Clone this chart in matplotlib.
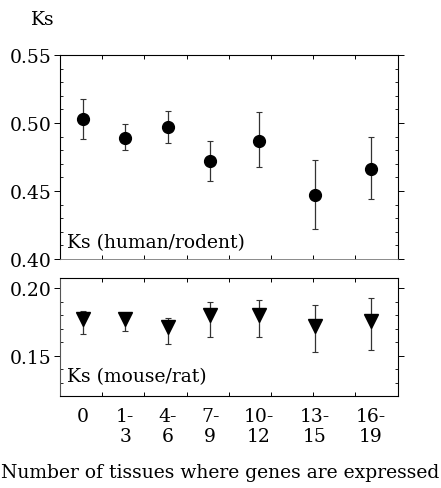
import numpy as np
import matplotlib
matplotlib.use('Agg')
import matplotlib.pyplot as plt
from matplotlib.ticker import MultipleLocator, FixedLocator

plt.rcParams['font.family'] = ['DejaVu Serif']

# categories (number of tissues) and their positions on the axis
groups = ['0', '1-\n3', '4-\n6', '7-\n9', '10-\n12', '13-\n15', '16-\n19']
xpos = [0.55, 1.55, 2.56, 3.56, 4.72, 6.04, 7.37]

# Ks human/rodent: mean, lower and upper ends of bars
hr_mean = [0.503, 0.489, 0.497, 0.472, 0.487, 0.447, 0.466]
hr_low = [0.488, 0.480, 0.485, 0.457, 0.468, 0.422, 0.444]
hr_high = [0.518, 0.499, 0.509, 0.487, 0.508, 0.473, 0.490]

# Ks mouse/rat
mr_mean = [0.177, 0.177, 0.171, 0.180, 0.180, 0.172, 0.176]
mr_low = [0.166, 0.168, 0.159, 0.164, 0.164, 0.153, 0.154]
mr_high = [0.183, 0.180, 0.178, 0.190, 0.191, 0.188, 0.193]

W, H = 441, 489
fig = plt.figure(figsize=(W / 100, H / 100), dpi=100)
ax1 = fig.add_axes([60 / W, 1 - 260 / H, 337.5 / W, 204 / H])
ax2 = fig.add_axes([60 / W, 1 - 397 / H, 337.5 / W, 118 / H])

hr_mean = np.array(hr_mean)
mr_mean = np.array(mr_mean)
err1 = [hr_mean - np.array(hr_low), np.array(hr_high) - hr_mean]
err2 = [mr_mean - np.array(mr_low), np.array(mr_high) - mr_mean]

ax1.errorbar(xpos, hr_mean, yerr=err1, fmt='o', color='black', ms=8.5,
             ecolor='#333333', elinewidth=0.9, capsize=2, capthick=0.8)
ax2.errorbar(xpos, mr_mean, yerr=err2, fmt='v', color='black', ms=10,
             ecolor='#333333', elinewidth=0.9, capsize=2, capthick=0.8)

ax1.set_ylim(0.40, 0.55)
ax2.set_ylim(0.1201, 0.2077)
ax1.yaxis.set_major_locator(FixedLocator([0.40, 0.45, 0.50, 0.55]))
ax2.yaxis.set_major_locator(FixedLocator([0.15, 0.20]))
ax1.set_yticklabels(['0.40', '0.45', '0.50', '0.55'])
ax2.set_yticklabels(['0.15', '0.20'])

fs = 13.5
for ax in (ax1, ax2):
    ax.set_xlim(0, 8)
    ax.yaxis.set_minor_locator(MultipleLocator(0.01))
    ax.xaxis.set_minor_locator(FixedLocator([1, 2, 3, 4, 5, 6, 7]))
    ax.set_xticks(xpos)
    ax.tick_params(axis='y', which='major', direction='out', length=4, width=0.7,
                   left=True, right=True, labelsize=fs, pad=2)
    ax.tick_params(axis='y', which='minor', direction='in', length=2.5, width=0.6,
                   left=True, right=True)
    ax.tick_params(axis='x', which='minor', direction='in', length=3, width=0.7,
                   top=True, bottom=True)
    ax.tick_params(axis='x', which='major', length=0, labelsize=fs, pad=8)
    for s in ax.spines.values():
        s.set_linewidth(0.8)

ax1.set_xticklabels([])
ax1.spines['bottom'].set_color('#777777')
ax1.spines['bottom'].set_linewidth(0.6)
ax2.spines['left'].set_color('#555555')
ax2.set_xticklabels(groups, linespacing=1.1)

ax1.text(0.02, 0.06, 'Ks (human/rodent)', transform=ax1.transAxes, fontsize=fs)
ax2.text(0.02, 0.13, 'Ks (mouse/rat)', transform=ax2.transAxes, fontsize=fs)
fig.text(31 / W, 1 - 25 / H, 'Ks', fontsize=fs)
fig.text(0.5, 1 - 478 / H, 'Number of tissues where genes are expressed',
         fontsize=fs, ha='center')

fig.savefig('out.png', dpi=100)
